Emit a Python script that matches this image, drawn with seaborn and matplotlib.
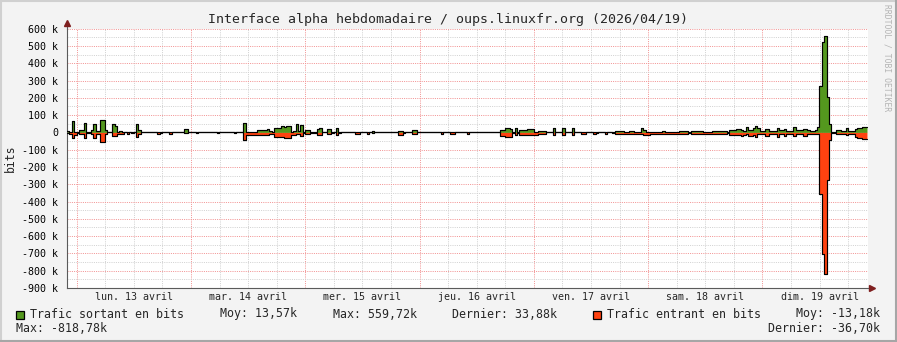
import numpy as np
import pandas as pd
import matplotlib
matplotlib.use("Agg")
import matplotlib.pyplot as plt
import seaborn as sns
from matplotlib.ticker import FixedLocator, MultipleLocator, FuncFormatter
from matplotlib.patches import Rectangle
from matplotlib.lines import Line2D

# ---------------- data ----------------
TITLE = "Interface alpha hebdomadaire / oups.linuxfr.org (2026/04/19)"
STEP_HOURS = 0.5          # 30-minute consolidation steps
FIRST_MIDNIGHT_H = 2.04   # hours from graph start to lun. 13 avril 00:00
DAY_LABELS = ["lun. 13 avril", "mar. 14 avril", "mer. 15 avril", "jeu. 16 avril",
              "ven. 17 avril", "sam. 18 avril", "dim. 19 avril"]
Y_TICKS_K = [600, 500, 400, 300, 200, 100, 0, -100, -200, -300, -400, -500, -600, -700, -800, -900]

# outgoing traffic (k bits), one value per 30 min
outgoing_k = [
    8, 5, 67, 5, 2, 13, 13, 54, 3, 3, 13, 46, 8, 10, 71, 71, 12, 0, 0, 46, 38, 4, 6, 4,
    0, 0, 0, 0, 0, 46, 12, 0, 0, 0, 0, 0, 0, 0, 0, 0, 0, 0, 0, 0, 0, 0, 0, 0,
    0, 17, 17, 0, 0, 0, 0, 0, 0, 0, 0, 0, 0, 0, 0, 0, 0, 0, 0, 0, 0, 0, 5, 0,
    0, 0, 52, 4, 4, 4, 4, 4, 12, 12, 12, 12, 20, 6, 3, 27, 23, 23, 38, 29, 38, 38, 4, 10,
    46, 8, 45, 3, 13, 13, 2, 2, 2, 19, 27, 0, 0, 19, 19, 3, 0, 27, 3, 0, 0, 0, 0, 0,
    0, 4, 0, 0, 0, 0, 0, 0, 6, 0, 0, 0, 0, 0, 0, 0, 0, 0, 0, 10, 10, 0, 0, 0,
    0, 15, 15, 0, 0, 0, 0, 0, 0, 0, 0, 0, 0, 0, 0, 0, 0, 0, 0, 0, 0, 0, 0, 0,
    0, 0, 0, 0, 0, 0, 0, 0, 0, 0, 0, 0, 0, 0, 12, 12, 27, 27, 20, 3, 27, 2, 12, 12,
    12, 17, 17, 17, 4, 4, 6, 6, 6, 0, 0, 0, 23, 0, 0, 0, 23, 0, 0, 0, 23, 0, 0, 0,
    0, 0, 0, 0, 0, 3, 0, 0, 0, 0, 0, 0, 0, 0, 10, 10, 10, 10, 4, 4, 10, 10, 4, 4,
    4, 27, 15, 4, 4, 4, 4, 4, 4, 4, 8, 4, 4, 4, 4, 4, 4, 10, 10, 10, 10, 3, 6, 6,
    6, 6, 8, 5, 5, 5, 5, 10, 10, 10, 10, 10, 10, 3, 15, 15, 15, 19, 19, 15, 7, 33, 15, 15,
    23, 38, 23, 10, 10, 19, 19, 10, 10, 10, 23, 13, 13, 21, 10, 10, 10, 31, 13, 13, 13, 19, 19, 13,
    8, 8, 13, 31, 271, 521, 559.72, 204, 50, 3, 3, 15, 15, 8, 8, 23, 8, 8, 8, 19, 27, 27, 33.88, 33.88,
]

# incoming traffic (k bits, magnitude; drawn below zero)
incoming_k = [
    5, 12, 31, 15, 3, 12, 12, 31, 3, 3, 12, 31, 8, 12, 58, 58, 12, 0, 0, 23, 23, 12, 8, 8,
    0, 8, 0, 6, 0, 27, 8, 0, 0, 0, 0, 0, 0, 0, 8, 6, 0, 0, 0, 8, 0, 0, 0, 0,
    0, 2, 2, 0, 0, 0, 6, 0, 0, 0, 0, 0, 0, 0, 0, 5, 0, 0, 0, 0, 0, 0, 4, 0,
    0, 0, 46, 15, 15, 15, 15, 15, 15, 15, 15, 15, 15, 10, 8, 25, 27, 27, 25, 31, 31, 31, 15, 15,
    12, 10, 20, 5, 10, 10, 3, 3, 3, 17, 17, 0, 0, 10, 10, 3, 0, 17, 3, 0, 0, 0, 0, 0,
    0, 8, 8, 0, 0, 0, 8, 0, 2, 0, 0, 0, 0, 0, 0, 0, 0, 0, 0, 15, 15, 5, 0, 0,
    0, 8, 8, 0, 0, 0, 0, 0, 0, 0, 0, 0, 0, 7, 0, 0, 0, 7, 7, 0, 0, 0, 0, 0,
    7, 0, 0, 0, 0, 0, 0, 0, 0, 0, 0, 0, 0, 0, 19, 19, 25, 25, 27, 5, 15, 5, 15, 15,
    15, 15, 15, 15, 15, 15, 12, 12, 12, 0, 0, 0, 17, 0, 0, 0, 15, 0, 0, 0, 17, 0, 0, 0,
    8, 8, 0, 0, 0, 8, 4, 0, 0, 0, 8, 0, 0, 4, 12, 12, 12, 12, 8, 8, 12, 12, 8, 8,
    8, 8, 15, 15, 15, 8, 8, 8, 8, 8, 8, 8, 8, 8, 8, 8, 8, 8, 8, 8, 8, 6, 8, 8,
    8, 8, 8, 8, 8, 8, 8, 8, 8, 8, 8, 8, 8, 6, 15, 15, 15, 15, 15, 23, 15, 12, 19, 19,
    15, 25, 12, 12, 12, 19, 19, 12, 12, 12, 25, 12, 12, 19, 12, 12, 12, 19, 12, 12, 12, 19, 19, 12,
    8, 8, 8, 8, 354, 706, 818.78, 273, 46, 5, 5, 12, 12, 12, 12, 15, 12, 12, 12, 25, 31, 31, 36.7, 36.7,
]

LEGEND_OUT = ["Trafic sortant en bits", "Moy: 13,57k", "Max: 559,72k", "Dernier: 33,88k"]
LEGEND_IN = ["Trafic entrant en bits", "Moy: -13,18k", "Max: -818,78k", "Dernier: -36,70k"]

# ---------------- style ----------------
GREEN = "#54981E"
RED = "#FF4210"
BACK = "#F3F3F3"
AXIS_C = "#5a5a5a"
ARROW_C = "#7f1f1f"

sns.set_theme(style="white")
plt.rcParams["font.family"] = ["DejaVu Sans Mono", "DejaVu Sans"]

W, H = 897, 342
fig = plt.figure(figsize=(W / 100, H / 100), dpi=100, facecolor=BACK)
L, R, T, B = 67, 868, 28.7, 288
ax = fig.add_axes([L / W, 1 - B / H, (R - L) / W, (B - T) / H])
ax.set_facecolor("white")

n = len(outgoing_k)
t_edges = np.arange(n + 1) * STEP_HOURS
out_v = np.array(outgoing_k + [outgoing_k[-1]], dtype=float)
in_v = -np.array(incoming_k + [incoming_k[-1]], dtype=float)
df = pd.DataFrame({"t": t_edges, "out": out_v, "inc": in_v})

ax.fill_between(df["t"], 0, df["out"], step="post", color=GREEN, lw=0, zorder=2)
ax.fill_between(df["t"], 0, df["inc"], step="post", color=RED, lw=0, zorder=2)
sns.lineplot(data=df, x="t", y="out", drawstyle="steps-post", color="black",
             lw=0.85, ax=ax, zorder=3)
sns.lineplot(data=df, x="t", y="inc", drawstyle="steps-post", color="black",
             lw=0.85, ax=ax, zorder=3)

total_h = n * STEP_HOURS
ax.set_xlim(0, total_h * (R - L) / 800)
ax.set_ylim(-900, 600)
ax.set_xlabel("")
ax.set_ylabel("")

# grid
midnights = [FIRST_MIDNIGHT_H + 24 * k for k in range(7)]
six_h = [FIRST_MIDNIGHT_H + 6 * k for k in range(0, 28)]
ax.xaxis.set_major_locator(FixedLocator(midnights))
ax.xaxis.set_minor_locator(FixedLocator(six_h))
ax.yaxis.set_major_locator(FixedLocator(Y_TICKS_K))
ax.yaxis.set_minor_locator(MultipleLocator(50))
ax.yaxis.set_major_formatter(FuncFormatter(lambda v, p: "0" if abs(v) < 1e-9 else f"{v:.0f} k"))
ax.set_xticklabels([])
ax.grid(which="major", color="#F29595", ls=(0, (1, 1.2)), lw=0.72)
ax.grid(which="minor", color="#D2D2D2", ls=(0, (1, 1.2)), lw=0.72)
ax.set_axisbelow(True)

for s in ["top", "right"]:
    ax.spines[s].set_visible(False)
for s in ["left", "bottom"]:
    ax.spines[s].set_color(AXIS_C)
    ax.spines[s].set_linewidth(0.8)

ax.tick_params(axis="both", which="major", length=3, width=0.72, color=AXIS_C,
               direction="out", labelsize=7.2, labelcolor="black")
ax.tick_params(axis="both", which="minor", length=1.5, width=0.72, color=AXIS_C,
               direction="out")
ax.tick_params(axis="y", which="major", pad=3.2)

# axis extensions and arrows
ax.plot([0, 0], [1.0, 1.025], transform=ax.transAxes, color=AXIS_C, lw=0.8, clip_on=False)
ax.plot([0], [1.022], transform=ax.transAxes, marker="^", ms=4.2, color=ARROW_C,
        clip_on=False, ls="none")
ax.plot([1.0, 1.005], [0, 0], transform=ax.transAxes, color=AXIS_C, lw=0.8, clip_on=False)
ax.plot([1.0045], [0], transform=ax.transAxes, marker=">", ms=4.2, color=ARROW_C,
        clip_on=False, ls="none")

# day labels at noon
for k, lab in enumerate(DAY_LABELS):
    ax.text(FIRST_MIDNIGHT_H + 12 + 24 * k, -9 / (B - T), lab,
            transform=ax.get_xaxis_transform(), ha="center", va="center", fontsize=7.2)

# title, y label, watermark
fig.text(448 / W, 1 - 19 / H, TITLE, ha="center", va="center", fontsize=9.55)
fig.text(10 / W, 1 - 158 / H, "bits", rotation=90, ha="center", va="center", fontsize=8.3)
fig.text(887 / W, 1 - 58 / H, "RRDTOOL / TOBI OETIKER", rotation=270, ha="center",
         va="center", fontsize=5.8, color="#B4B4B4")

# legend
def px(x, y):
    return x / W, 1 - y / H

fs = 8.4
fig.add_artist(Rectangle(px(15.5, 318.5), 8 / W, 8 / H, transform=fig.transFigure,
                         fc=GREEN, ec="black", lw=0.9))
fig.text(*px(30, 314), LEGEND_OUT[0], va="center", ha="left", fontsize=fs)
fig.text(*px(220, 314), LEGEND_OUT[1], va="center", ha="left", fontsize=fs)
fig.text(*px(332.5, 314), LEGEND_OUT[2], va="center", ha="left", fontsize=fs)
fig.text(*px(452.5, 314), LEGEND_OUT[3], va="center", ha="left", fontsize=fs)
fig.add_artist(Rectangle(px(592.5, 318.5), 8 / W, 8 / H, transform=fig.transFigure,
                         fc=RED, ec="black", lw=0.9))
fig.text(*px(607, 314), LEGEND_IN[0], va="center", ha="left", fontsize=fs)
fig.text(*px(880, 314), LEGEND_IN[1], va="center", ha="right", fontsize=fs)
fig.text(*px(16, 328), LEGEND_IN[2], va="center", ha="left", fontsize=fs)
fig.text(*px(880, 328), LEGEND_IN[3], va="center", ha="right", fontsize=fs)

# frame of the image
fig.add_artist(Line2D([0, 1], [1 - 1 / H, 1 - 1 / H], transform=fig.transFigure, color="#D0D0D0", lw=1.5))
fig.add_artist(Line2D([1 / W, 1 / W], [0, 1], transform=fig.transFigure, color="#D0D0D0", lw=1.5))
fig.add_artist(Line2D([0, 1], [1 / H, 1 / H], transform=fig.transFigure, color="#A6A6A6", lw=1.5))
fig.add_artist(Line2D([1 - 1 / W, 1 - 1 / W], [0, 1], transform=fig.transFigure, color="#A6A6A6", lw=1.5))

fig.savefig("out.png", dpi=100, facecolor=BACK)
